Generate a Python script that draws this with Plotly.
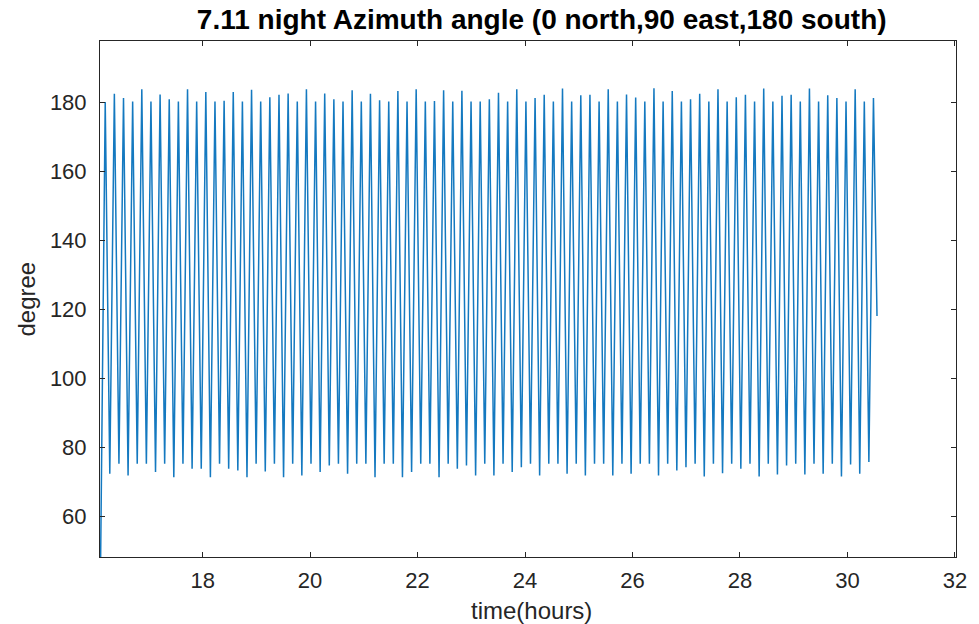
import numpy as np
import plotly.graph_objects as go

# Turning points of the azimuth trace (degrees)
start_value = 48.0
peak_values = [
    180.0, 182.4, 181.2, 180.2, 183.7, 180.2, 182.2, 180.8, 180.2, 183.7,
    180.2, 182.9, 180.2, 180.4, 182.9, 180.2, 183.6, 180.2, 181.4, 182.1,
    182.5, 180.2, 183.7, 180.2, 182.5, 180.8, 180.2, 183.4, 180.2, 182.4,
    180.5, 180.2, 183.2, 180.2, 183.7, 180.2, 180.3, 183.4, 180.2, 183.3,
    180.2, 180.2, 180.8, 182.7, 180.2, 183.7, 180.2, 181.2, 182.1, 180.2,
    183.9, 180.2, 182.0, 182.1, 180.2, 183.7, 180.2, 182.2, 181.3, 180.2,
    184.0, 180.2, 183.2, 180.2, 180.8, 182.4, 180.2, 183.7, 180.2, 181.4,
    182.1, 180.2, 183.9, 180.2, 181.8, 182.1, 180.2, 183.9, 180.2, 182.0,
    181.2, 180.2, 183.7, 180.2, 181.2,
]
trough_values = [
    72.3, 75.2, 71.8, 75.2, 75.2, 72.8, 75.2, 71.3, 75.2, 73.8,
    73.8, 71.3, 75.2, 73.8, 73.3, 71.3, 75.2, 73.0, 75.2, 71.3,
    75.2, 71.8, 75.2, 72.8, 74.7, 75.2, 72.3, 75.2, 75.2, 71.3,
    75.2, 75.2, 71.3, 72.8, 75.2, 75.2, 71.3, 75.2, 73.8, 74.7,
    71.8, 75.2, 71.8, 75.2, 72.8, 74.2, 75.2, 71.8, 75.2, 75.2,
    72.3, 75.2, 71.8, 75.2, 75.2, 71.8, 75.2, 72.3, 75.2, 75.2,
    71.8, 75.2, 73.3, 74.2, 75.2, 71.5, 75.2, 72.5, 75.2, 73.8,
    75.2, 71.5, 75.2, 72.1, 74.7, 75.2, 72.1, 75.2, 72.3, 75.2,
    71.5, 75.0, 72.3, 75.7,
]
end_value = 118.0

# Time base (hours): sampling starts at t_start, one sample every half cycle
t_start = 16.102
half_step = 0.0851
t_end = 30.55

# Interleave peaks and troughs into one trace
values = [start_value]
for i, p in enumerate(peak_values):
    values.append(p)
    if i < len(trough_values):
        values.append(trough_values[i])
times = list(t_start + half_step * np.arange(len(values)))
values.append(end_value)
times.append(t_end)

x_ticks = [18, 20, 22, 24, 26, 28, 30, 32]
y_ticks = [60, 80, 100, 120, 140, 160, 180]

FONT = "Liberation Sans, Arial, Helvetica, sans-serif"
AX = "#262626"

fig = go.Figure(
    go.Scatter(
        x=times, y=values, mode="lines",
        line=dict(color="#1479c0", width=1.5),
        hoverinfo="skip",
    )
)

axis_common = dict(
    showgrid=False, zeroline=False,
    showline=True, linecolor=AX, linewidth=1, mirror="ticks",
    ticks="inside", ticklen=5, tickwidth=1, tickcolor=AX,
    tickfont=dict(family=FONT, size=22, color=AX),
)

fig.update_xaxes(range=[16.09, 32.02], tickvals=x_ticks,
                 ticklabelstandoff=4, **axis_common)
fig.update_yaxes(range=[48.2, 197.7], tickvals=y_ticks,
                 ticklabelstandoff=8, **axis_common)

fig.update_layout(
    width=979, height=624,
    margin=dict(l=100, r=17, t=41, b=67),
    paper_bgcolor="white", plot_bgcolor="white",
    showlegend=False,
    title=dict(
        text="<b>7.11 night Azimuth angle (0 north,90 east,180 south)</b>",
        x=0.516, xref="paper", xanchor="center",
        y=1 - 19 / 624, yref="container", yanchor="middle",
        font=dict(family=FONT, size=28, color="#000000"),
    ),
    annotations=[
        dict(text="time(hours)", xref="paper", yref="paper",
             x=0.5046, y=-0.103, xanchor="center", yanchor="middle",
             showarrow=False, font=dict(family=FONT, size=24, color=AX)),
        dict(text="degree", xref="paper", yref="paper",
             x=-0.087, y=0.5, xanchor="center", yanchor="middle",
             textangle=-90, showarrow=False,
             font=dict(family=FONT, size=24, color=AX)),
    ],
)

fig.write_html("out.html")
